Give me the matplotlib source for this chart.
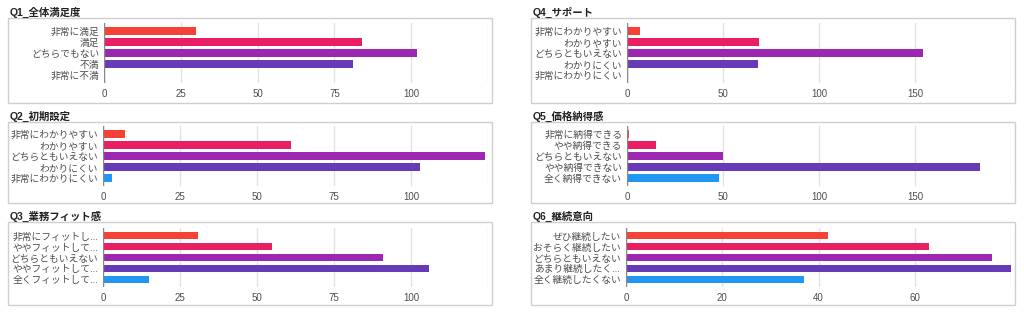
import matplotlib
matplotlib.use("Agg")
import matplotlib.pyplot as plt
from matplotlib.patches import Rectangle

plt.rcParams['font.family'] = ['Liberation Sans', 'Noto Sans CJK JP', 'DejaVu Sans']

W, H = 1024, 316
COLORS = ["#F44336", "#E91E63", "#9C27B0", "#673AB7", "#2196F3"]

# data
q1_title = "Q1_全体満足度"
q1_labels = ["非常に満足", "満足", "どちらでもない", "不満", "非常に不満"]
q1_values = [30, 84, 102, 81, 0]

q2_title = "Q2_初期設定"
q2_labels = ["非常にわかりやすい", "わかりやすい", "どちらともいえない", "わかりにくい", "非常にわかりにくい"]
q2_values = [7, 61, 124, 103, 3]

q3_title = "Q3_業務フィット感"
q3_labels = ["非常にフィットし...", "ややフィットして...", "どちらともいえない", "ややフィットして...", "全くフィットして..."]
q3_values = [31, 55, 91, 106, 15]

q4_title = "Q4_サポート"
q4_labels = ["非常にわかりやすい", "わかりやすい", "どちらともいえない", "わかりにくい", "非常にわかりにくい"]
q4_values = [7, 69, 154, 68, 0]

q5_title = "Q5_価格納得感"
q5_labels = ["非常に納得できる", "やや納得できる", "どちらともいえない", "やや納得できない", "全く納得できない"]
q5_values = [1, 15, 50, 184, 48]

q6_title = "Q6_継続意向"
q6_labels = ["ぜひ継続したい", "おそらく継続したい", "どちらともいえない", "あまり継続したく...", "全く継続したくない"]
q6_values = [42, 63, 76, 80, 37]

ticks_125 = [0, 25, 50, 75, 100, 125]
ticks_200 = [0, 50, 100, 150, 200]
ticks_80 = [0, 20, 40, 60, 80]


def px_rect(x0, y0, x1, y1):
    return [x0 / W, 1 - y1 / H, (x1 - x0) / W, (y1 - y0) / H]


def draw_panel(fig, title, labels, values, ticks, box, axbox):
    bx0, by0, bx1, by1 = box
    fig.patches.append(Rectangle((bx0 / W, 1 - by1 / H), (bx1 - bx0) / W, (by1 - by0) / H,
                                 transform=fig.transFigure, fill=False,
                                 edgecolor="#cfcfcf", linewidth=1.0))
    fig.text((bx0 + 2) / W, 1 - (by0 - 6) / H, title, fontsize=7.5, fontweight="bold",
             color="#222222", ha="left", va="center")
    ax = fig.add_axes(px_rect(*axbox))
    ax.barh(range(len(values)), values, height=0.66, color=COLORS)
    ax.set_ylim(4.73, -0.73)
    ax.set_xlim(ticks[0], ticks[-1])
    ax.set_xticks(ticks)
    ax.set_xticklabels([str(t) for t in ticks[:-1]] + [""])
    ax.set_yticks(range(len(labels)))
    ax.set_yticklabels(labels)
    for s in ax.spines.values():
        s.set_visible(False)
    ax.grid(axis="x", color="#e3e3e3", linewidth=1.0)
    ax.set_axisbelow(True)
    ax.axvline(0, color="#888888", linewidth=1.0)
    ax.tick_params(axis="both", length=0, labelsize=7, labelcolor="#4d4d4d")
    ax.tick_params(axis="y", pad=3.5)
    ax.tick_params(axis="x", pad=4)
    return ax


fig = plt.figure(figsize=(W / 100, H / 100), dpi=100)

draw_panel(fig, q1_title, q1_labels, q1_values, ticks_125, (8, 18, 492, 103), (104, 23, 488, 83))
draw_panel(fig, q2_title, q2_labels, q2_values, ticks_125, (8, 122, 492, 203), (103, 126, 488, 186))
draw_panel(fig, q3_title, q3_labels, q3_values, ticks_125, (8, 222, 492, 305), (103, 228, 488, 287))
draw_panel(fig, q4_title, q4_labels, q4_values, ticks_200, (531, 18, 1015, 103), (627, 23, 1011, 83))
draw_panel(fig, q5_title, q5_labels, q5_values, ticks_200, (531, 122, 1015, 203), (627, 126, 1011, 186))
draw_panel(fig, q6_title, q6_labels, q6_values, ticks_80, (531, 222, 1015, 305), (626, 228, 1011, 287))

fig.savefig("out.png", dpi=100)
